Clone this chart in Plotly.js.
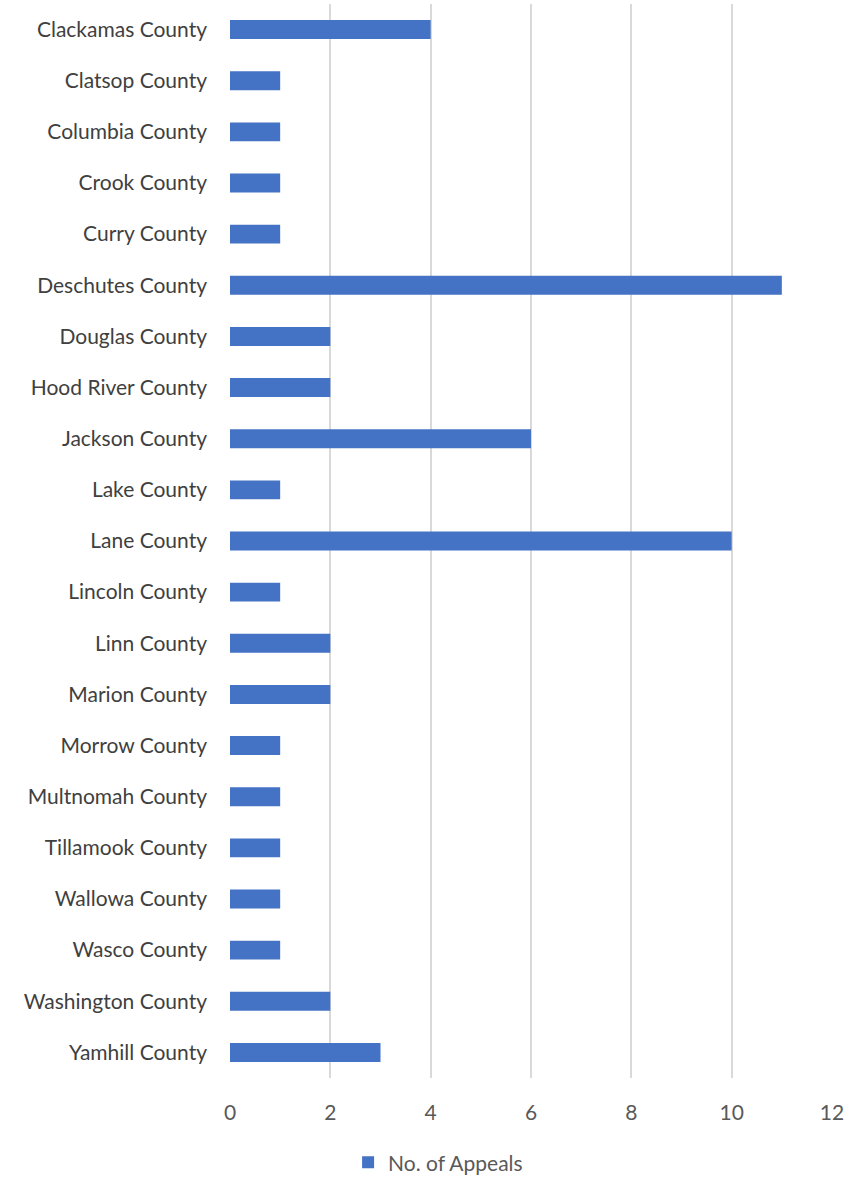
<!DOCTYPE html>
<html>
<head>
<meta charset="utf-8">
<script src="https://cdn.plot.ly/plotly-3.0.1.min.js"></script>
<style>html,body{margin:0;padding:0;background:#fff;}#chart{width:859px;height:1178px;}</style>
</head>
<body>
<div id="chart"></div>
<script>
const counties = ["Clackamas County","Clatsop County","Columbia County","Crook County","Curry County","Deschutes County","Douglas County","Hood River County","Jackson County","Lake County","Lane County","Lincoln County","Linn County","Marion County","Morrow County","Multnomah County","Tillamook County","Wallowa County","Wasco County","Washington County","Yamhill County"];
const appeals = [4,1,1,1,1,11,2,2,6,1,10,1,2,2,1,1,1,1,1,2,3];
const xTicks = [0,2,4,6,8,10,12];
const seriesName = "No. of Appeals";

const trace = {
  type: 'bar',
  orientation: 'h',
  y: counties,
  x: appeals,
  name: seriesName,
  marker: {color: '#4472C4'},
  hoverinfo: 'x+y'
};

const layout = {
  width: 859,
  height: 1178,
  margin: {l: 230, r: 27, t: 4, b: 100},
  paper_bgcolor: '#ffffff',
  plot_bgcolor: '#ffffff',
  font: {family: 'Lato, "Open Sans", sans-serif', color: '#595959', size: 21},
  bargap: 0.63,
  showlegend: true,
  legend: {
    orientation: 'h',
    xref: 'container', yref: 'container',
    x: 0.51, xanchor: 'center',
    y: 0.013, yanchor: 'middle',
    itemwidth: 30,
    font: {size: 21, color: '#595959'}
  },
  xaxis: {
    range: [0, 12],
    tickvals: xTicks,
    ticktext: xTicks.map(String),
    showgrid: true,
    gridcolor: '#d9d9d9',
    gridwidth: 1.5,
    zeroline: false,
    showline: false,
    ticks: '',
    ticklabelstandoff: 20,
    tickfont: {size: 21, color: '#595959'}
  },
  yaxis: {
    type: 'category',
    autorange: 'reversed',
    showgrid: false,
    zeroline: false,
    showline: false,
    ticks: '',
    ticklabelstandoff: 22,
    tickfont: {size: 21, color: '#404040'}
  }
};

Plotly.newPlot('chart', [trace], layout, {displayModeBar: false, responsive: false});
</script>
</body>
</html>
